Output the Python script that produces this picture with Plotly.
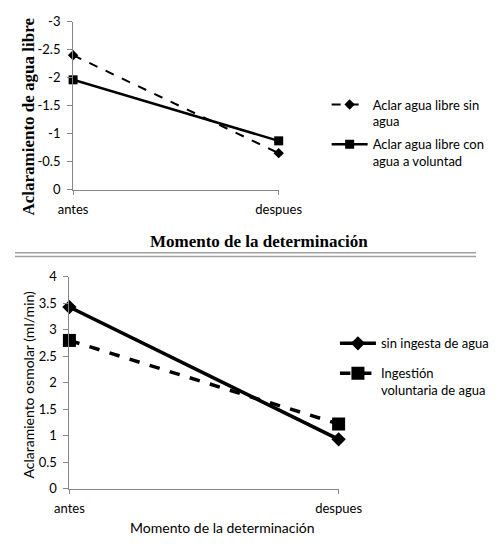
import plotly.graph_objects as go

# shared categories
momentos = ['antes', 'despues']

# top chart: aclaramiento de agua libre
agua_libre_sin_agua = [-2.4, -0.65]
agua_libre_con_agua = [-1.96, -0.87]
top_tickvals = [0, -0.5, -1, -1.5, -2, -2.5, -3]
top_ticktext = ['0', '-0.5', '-1', '-1.5', '-2', '-2.5', '-3']

# bottom chart: aclaramiento osmolar
osmolar_sin_ingesta = [3.43, 0.93]
osmolar_voluntaria = [2.8, 1.22]
bottom_tickvals = [0, 0.5, 1, 1.5, 2, 2.5, 3, 3.5, 4]

W, H = 500, 549
axis_grey = 'rgb(134,134,134)'
tick_font = dict(family='Lato', size=13, color='black')
legend_font = dict(family='Lato', size=13, color='black')


def px_x(x):
    return x / W


def px_y(y):
    return 1 - y / H


fig = go.Figure()

fig.add_trace(go.Scatter(
    x=momentos, y=agua_libre_sin_agua,
    name='Aclar agua libre sin<br>agua',
    mode='lines+markers',
    line=dict(color='black', width=2, dash='dash'),
    marker=dict(symbol='diamond', size=8, color='black'),
    xaxis='x', yaxis='y', legend='legend', legendgroup='a', cliponaxis=False,
))
fig.add_trace(go.Scatter(
    x=momentos, y=agua_libre_con_agua,
    name='Aclar agua libre con<br>agua a voluntad',
    mode='lines+markers',
    line=dict(color='black', width=2.5),
    marker=dict(symbol='square', size=9, color='black'),
    xaxis='x', yaxis='y', legend='legend', legendgroup='b', cliponaxis=False,
))
fig.add_trace(go.Scatter(
    x=momentos, y=osmolar_sin_ingesta,
    name='sin ingesta de agua',
    mode='lines+markers',
    line=dict(color='black', width=3.5),
    marker=dict(symbol='diamond', size=11, color='black'),
    xaxis='x2', yaxis='y2', legend='legend2', legendgroup='c', cliponaxis=False,
))
fig.add_trace(go.Scatter(
    x=momentos, y=osmolar_voluntaria,
    name='Ingestión<br>voluntaria de agua',
    mode='lines+markers',
    line=dict(color='black', width=3.5, dash='dash'),
    marker=dict(symbol='square', size=13, color='black'),
    xaxis='x2', yaxis='y2', legend='legend2', legendgroup='d', cliponaxis=False,
))

x_common = dict(
    type='category', range=[0, 1], showgrid=False, zeroline=False,
    showline=True, linecolor=axis_grey, linewidth=1,
    ticks='outside', ticklen=4, tickcolor=axis_grey,
    tickfont=tick_font, ticklabelstandoff=4, fixedrange=True,
)
y_common = dict(
    showgrid=False, zeroline=False,
    showline=True, linecolor=axis_grey, linewidth=1,
    ticks='outside', ticklen=5, tickcolor=axis_grey,
    tickfont=tick_font, ticklabelstandoff=4,
)

fig.update_layout(
    width=W, height=H,
    margin=dict(l=0, r=0, t=0, b=0),
    paper_bgcolor='white', plot_bgcolor='white',
    xaxis=dict(x_common, domain=[px_x(63), px_x(286)], anchor='y'),
    yaxis=dict(y_common, domain=[px_y(187), px_y(14)], anchor='x',
               range=[0, -3], tickvals=top_tickvals, ticktext=top_ticktext),
    xaxis2=dict(x_common, domain=[px_x(59), px_x(351)], anchor='y2'),
    yaxis2=dict(y_common, domain=[px_y(495), px_y(277)], anchor='x2',
                range=[0, 4], tickvals=bottom_tickvals),
    legend=dict(x=px_x(338), y=px_y(84), xanchor='left', yanchor='top',
                font=legend_font, bgcolor='rgba(0,0,0,0)', itemwidth=36,
                valign='top', traceorder='grouped', tracegroupgap=3),
    legend2=dict(x=px_x(347), y=px_y(330), xanchor='left', yanchor='top',
                 font=legend_font, bgcolor='rgba(0,0,0,0)', itemwidth=36,
                 valign='top', traceorder='grouped', tracegroupgap=10),
    showlegend=True,
)

serif_bold = dict(family='Liberation Serif', size=17, color='black')
plain = dict(family='Lato', size=14, color='black')
fig.add_annotation(text='<b>Aclaramiento de agua libre</b>', font=serif_bold,
                   xref='paper', yref='paper', x=px_x(15), y=px_y(112),
                   textangle=-90, showarrow=False, xanchor='center', yanchor='middle')
fig.add_annotation(text='<b>Momento de la determinación</b>', font=serif_bold,
                   xref='paper', yref='paper', x=px_x(265), y=px_y(241),
                   showarrow=False, xanchor='center', yanchor='middle')
fig.add_annotation(text='Aclaramiento osmolar (ml/min)', font=plain,
                   xref='paper', yref='paper', x=px_x(15), y=px_y(388),
                   textangle=-90, showarrow=False, xanchor='center', yanchor='middle')
fig.add_annotation(text='Momento de la determinación', font=plain,
                   xref='paper', yref='paper', x=px_x(225), y=px_y(535),
                   showarrow=False, xanchor='center', yanchor='middle')

# double separator line between the two charts
for yy in (252, 256):
    fig.add_shape(type='line', xref='paper', yref='paper',
                  x0=0, x1=1, y0=px_y(yy), y1=px_y(yy),
                  line=dict(color='rgb(160,160,160)', width=1.5))

fig.write_html('out.html', config={'displayModeBar': False},
               post_script="document.body.style.margin='0';")
